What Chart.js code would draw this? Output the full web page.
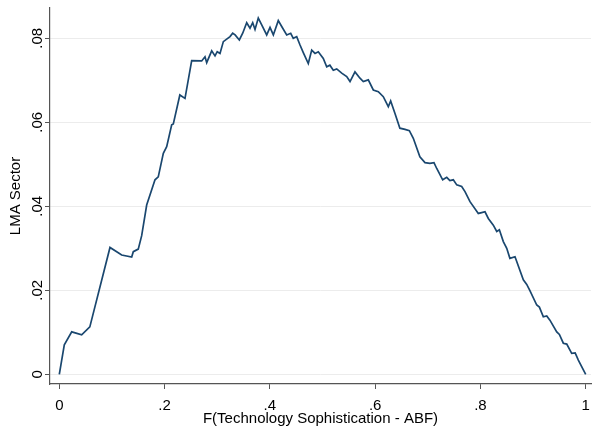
<!DOCTYPE html>
<html>
<head>
<meta charset="utf-8">
<script src="https://cdn.jsdelivr.net/npm/chart.js@4/dist/chart.umd.min.js"></script>
<style>
html,body{margin:0;padding:0;background:#fff;}
#wrap{width:592px;height:434px;position:relative;}
</style>
</head>
<body>
<div id="wrap"><canvas id="c" width="592" height="434"></canvas></div>
<script>
const xValues = [0,0.0095,0.0236,0.0425,0.058,0.0963,0.1185,0.1375,0.1406,0.150,0.1565,0.166,0.1818,0.188,0.1976,0.204,0.2135,0.2166,0.229,0.2388,0.2515,0.2705,0.2768,0.280,0.2895,0.2958,0.300,0.3053,0.3116,0.318,0.3243,0.3294,0.3340,0.342,0.3484,0.356,0.3623,0.3674,0.3718,0.378,0.3845,0.394,0.4003,0.4066,0.416,0.4225,0.432,0.4396,0.4445,0.451,0.4573,0.4635,0.473,0.4795,0.4858,0.492,0.5015,0.508,0.514,0.5205,0.527,0.5365,0.546,0.5523,0.5617,0.5712,0.5775,0.587,0.5965,0.606,0.6155,0.625,0.6295,0.6377,0.647,0.6567,0.665,0.6725,0.685,0.6947,0.704,0.7118,0.717,0.7283,0.736,0.742,0.7485,0.755,0.7644,0.7707,0.7802,0.796,0.8024,0.8087,0.815,0.8245,0.831,0.836,0.8435,0.850,0.856,0.8657,0.8815,0.888,0.894,0.907,0.912,0.9195,0.926,0.932,0.945,0.950,0.9575,0.964,0.9734,0.980,0.986,1.0];
const yValues = [0,0.0070,0.0101,0.0094,0.0113,0.0302,0.0284,0.0279,0.0292,0.0298,0.0330,0.0403,0.0463,0.0470,0.0526,0.0542,0.0594,0.0596,0.0665,0.0657,0.0747,0.0746,0.0756,0.0742,0.0770,0.0758,0.0768,0.0764,0.0792,0.0798,0.0804,0.0812,0.0808,0.0796,0.0812,0.0837,0.0824,0.0837,0.0821,0.0848,0.0832,0.0808,0.0826,0.0808,0.0842,0.0828,0.0808,0.0812,0.0800,0.0804,0.0784,0.0766,0.0740,0.0772,0.0764,0.0768,0.0752,0.0732,0.0736,0.0724,0.0727,0.0717,0.0709,0.0697,0.0720,0.0705,0.0697,0.0701,0.0677,0.0673,0.0661,0.0637,0.0651,0.0621,0.0586,0.0583,0.0580,0.0562,0.0518,0.0504,0.0502,0.0504,0.0490,0.0463,0.0469,0.0461,0.0463,0.0451,0.0447,0.0435,0.0411,0.0383,0.0385,0.0387,0.0371,0.0355,0.0340,0.0344,0.0316,0.0300,0.0276,0.0280,0.0225,0.0214,0.0199,0.0165,0.0160,0.0137,0.0139,0.0129,0.0101,0.0095,0.0074,0.0072,0.0050,0.0051,0.0034,0];
const xTickValues = [0,0.2,0.4,0.6,0.8,1];
const xTickLabels = ['0','.2','.4','.6','.8','1'];
const yTickValues = [0,0.02,0.04,0.06,0.08];
const yTickLabels = ['0','.02','.04','.06','.08'];
const xTitle = 'F(Technology Sophistication - ABF)';
const yTitle = 'LMA Sector';

const FONT = 'Liberation Sans, Arial, Helvetica, sans-serif';
const points = xValues.map((x,i)=>({x:x,y:yValues[i]}));

function labelFor(vals, labs, v){
  for (let i=0;i<vals.length;i++){ if (Math.abs(vals[i]-v)<1e-9) return labs[i]; }
  return '';
}

const yLabelPlugin = {
  id:'yLabels',
  afterDraw(chart){
    const ctx = chart.ctx, sc = chart.scales.y;
    ctx.save();
    ctx.font = '15px ' + FONT;
    ctx.fillStyle = '#000';
    ctx.textAlign = 'center';
    ctx.textBaseline = 'alphabetic';
    sc.ticks.forEach(t=>{
      const py = sc.getPixelForValue(t.value);
      ctx.save();
      ctx.translate(41.5, py);
      ctx.rotate(-Math.PI/2);
      ctx.fillText(labelFor(yTickValues,yTickLabels,t.value), 0, 0);
      ctx.restore();
    });
    ctx.restore();
  }
};

new Chart(document.getElementById('c'), {
  type:'line',
  data:{datasets:[{data:points,borderColor:'#1a476f',borderWidth:1.7,pointRadius:0,tension:0,fill:false}]},
  options:{
    responsive:false,animation:false,
    layout:{padding:{top:8,right:1,left:0,bottom:0}},
    plugins:{legend:{display:false},tooltip:{enabled:false}},
    scales:{
      x:{type:'linear',min:-0.01767,max:1.01007,
        afterFit(s){s.height=50;s.paddingLeft=0;s.paddingRight=0;},
        afterBuildTicks(s){s.ticks = xTickValues.map(v=>({value:v}));},
        ticks:{includeBounds:false,autoSkip:false,maxRotation:0,padding:8,color:'#000',font:{family:FONT,size:15},
          callback:(v)=>labelFor(xTickValues,xTickLabels,v)},
        grid:{drawOnChartArea:false,drawTicks:true,tickLength:5,tickColor:'#555',tickWidth:1},
        border:{display:true,color:'#555',width:1.2},
        title:{display:true,text:xTitle,color:'#000',font:{family:FONT,size:15},padding:{top:0,bottom:6}}
      },
      y:{type:'linear',min:-0.00231,max:0.08721,
        afterFit(s){s.width=50;s.paddingTop=0;s.paddingBottom=0;},
        afterBuildTicks(s){s.ticks = yTickValues.map(v=>({value:v}));},
        ticks:{display:false,includeBounds:false},
        grid:{drawOnChartArea:true,color:'#ececec',lineWidth:1,drawTicks:true,tickLength:5,tickColor:'#555',tickWidth:1},
        border:{display:true,color:'#555',width:1.2},
        title:{display:true,text:yTitle,color:'#000',font:{family:FONT,size:15},padding:{top:7,bottom:0}}
      }
    }
  },
  plugins:[yLabelPlugin]
});
</script>
</body>
</html>
